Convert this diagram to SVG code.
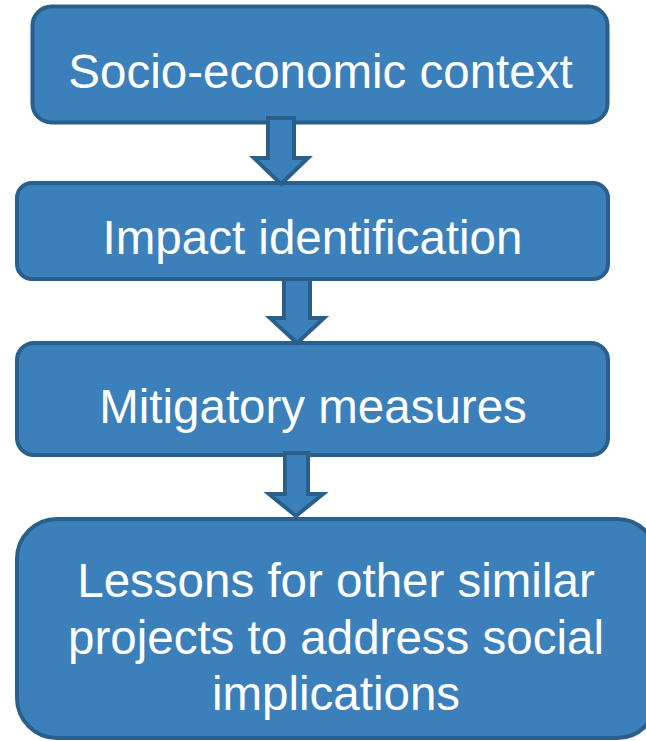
<svg xmlns="http://www.w3.org/2000/svg" width="646" height="741" viewBox="0 0 646 741">
  <style>
    .box { fill: #3b80ba; stroke: #2b5f8b; stroke-width: 4; }
    .arrow { fill: #3b80ba; stroke: #2b5f8b; stroke-width: 4; stroke-linejoin: miter; }
    .label { font-family: "Liberation Sans", Arial, sans-serif; font-size: 47.5px; fill: #ffffff; text-anchor: middle; }
  </style>
  <rect width="646" height="741" fill="#ffffff"/>

  <g id="node-context">
    <rect class="box" x="32.5" y="6.5" width="575" height="116" rx="19"/>
    <text class="label" x="320.5" y="88">Socio-economic context</text>
  </g>
  <g id="node-impact">
    <rect class="box" x="17" y="183" width="591" height="96" rx="15"/>
    <text class="label" x="312.5" y="254">Impact identification</text>
  </g>
  <g id="node-mitigation">
    <rect class="box" x="17" y="343" width="591" height="112" rx="17"/>
    <text class="label" x="313" y="423">Mitigatory measures</text>
  </g>
  <g id="node-lessons">
    <rect class="box" x="17" y="519" width="640" height="219" rx="40"/>
    <text class="label" x="336" y="597">Lessons for other similar</text>
    <text class="label" x="336" y="653.5">projects to address social</text>
    <text class="label" x="336" y="710">implications</text>
  </g>

  <g id="connectors">
    <!-- block arrows: shaft then head, pointing down -->
    <path class="arrow" d="M268 118 H294 V158 H308 L281 184 L254 158 H268 Z"/>
    <path class="arrow" d="M284 279 H310 V318 H324 L297 343 L270 318 H284 Z"/>
    <path class="arrow" d="M285 453 H308 V494 H323 L296 516 L269 494 H285 Z"/>
  </g>
</svg>
